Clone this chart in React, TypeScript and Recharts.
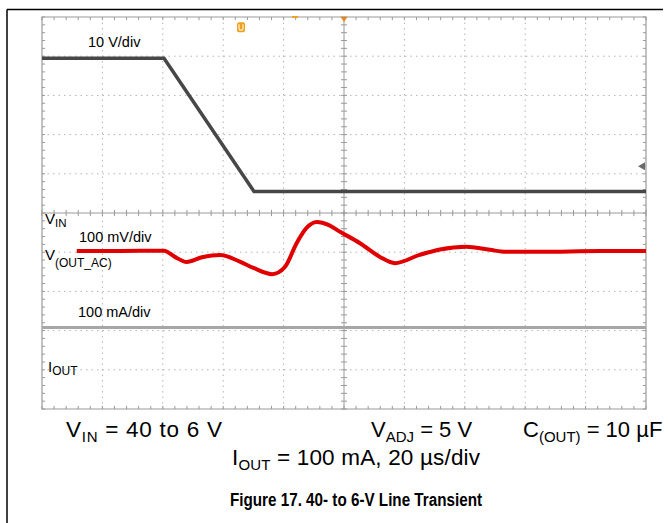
import { LineChart, Line, XAxis, YAxis, ReferenceLine, ReferenceArea, ReferenceDot } from "recharts";

// time base: 20 µs/div, 10 divisions
const timeTicks = [0, 20, 40, 60, 80, 100, 120, 140, 160, 180, 200];
const divTicks = [0, 1, 2, 3, 4, 5, 6, 7, 8, 9, 10];

// V_IN trace, volts (10 V/div)
const vinTime = [0, 40.4, 70.2, 200];
const vinVolts = [40, 40, 6, 6];

// V(OUT_AC) trace, mV (100 mV/div)
const voutTime = [11.5, 25, 40.4, 44, 47.9, 53, 59, 65.5, 70, 76.2, 80.5, 84.3, 87.6, 91, 95, 98.7, 105.3, 111.9, 116.9, 125, 131.8, 140.4, 148.3, 153.6, 164.9, 184.8, 200];
const voutMv = [0, 0, 1, -15, -28, -16, -10, -27, -43, -59, -40, 20, 59, 74, 66, 49, 20, -15, -31, -10, 4, 11, 3, -2, -2, 0, 0];

// I_OUT trace, mA (100 mA/div)
const ioutTime = [0, 200];
const ioutMa = [100, 100];

// channel ground markers, in divisions from the bottom
const VIN_ZERO = 4.95;
const VOUT_ZERO = 4.03;
const IOUT_ZERO = 1.08;

const vinData = vinTime.map((t, i) => ({ t, v: VIN_ZERO + vinVolts[i] / 10 }));
const voutData = voutTime.map((t, i) => ({ t, v: VOUT_ZERO + voutMv[i] / 100 }));
const ioutData = ioutTime.map((t, i) => ({ t, v: IOUT_ZERO + ioutMa[i] / 100 }));

const minorT = Array.from({ length: 51 }, (_, i) => i * 4);
const minorD = Array.from({ length: 51 }, (_, i) => i * 0.2);

const GRID = "#b4b4b4";
const AXIS = "#9a9a9a";

export default function App() {
  const tx = 0.08; // tick length in divisions (vertical)
  const tt = 1; // tick length in µs (horizontal)
  return (
    <div style={{ position: "absolute", left: 0, top: 0, width: 668, height: 523, background: "#fff" }}>
      <LineChart width={668} height={523} margin={{ top: 17, right: 22, bottom: 114, left: 42 }}>
        <XAxis type="number" dataKey="t" domain={[0, 200]} ticks={timeTicks} hide allowDataOverflow />
        <YAxis type="number" dataKey="v" domain={[0, 10]} ticks={divTicks} hide allowDataOverflow />
        {timeTicks.slice(1, -1).filter((t) => t !== 100).map((t) => (
          <ReferenceLine key={`gx${t}`} x={t} stroke={GRID} strokeDasharray="1.5 4" />
        ))}
        {divTicks.slice(1, -1).filter((d) => d !== 5).map((d) => (
          <ReferenceLine key={`gy${d}`} y={d} stroke={GRID} strokeDasharray="1.5 4" />
        ))}
        <ReferenceLine x={100} stroke={AXIS} />
        <ReferenceLine y={5} stroke={AXIS} />
        {minorT.map((t) => (
          <ReferenceLine key={`ct${t}`} segment={[{ x: t, y: 5 - tx }, { x: t, y: 5 + tx }]} stroke={AXIS} />
        ))}
        {minorT.map((t) => (
          <ReferenceLine key={`tt${t}`} segment={[{ x: t, y: 10 }, { x: t, y: 10 - tx }]} stroke={AXIS} />
        ))}
        {minorT.map((t) => (
          <ReferenceLine key={`bt${t}`} segment={[{ x: t, y: 0 }, { x: t, y: tx }]} stroke={AXIS} />
        ))}
        {minorD.map((d) => (
          <ReferenceLine key={`cd${d}`} segment={[{ x: 100 - tt, y: d }, { x: 100 + tt, y: d }]} stroke={AXIS} />
        ))}
        {minorD.map((d) => (
          <ReferenceLine key={`ld${d}`} segment={[{ x: 0, y: d }, { x: tt, y: d }]} stroke={AXIS} />
        ))}
        {minorD.map((d) => (
          <ReferenceLine key={`rd${d}`} segment={[{ x: 200 - tt, y: d }, { x: 200, y: d }]} stroke={AXIS} />
        ))}
        <ReferenceArea x1={0} x2={200} y1={0} y2={10} fill="none" stroke={AXIS} strokeWidth={1.2} />
        <Line data={ioutData} dataKey="v" type="linear" stroke="#a6a6a6" strokeWidth={3} dot={false} activeDot={false} isAnimationActive={false} />
        <Line data={vinData} dataKey="v" type="linear" stroke="#474747" strokeWidth={3.5} dot={false} activeDot={false} isAnimationActive={false} />
        <Line data={voutData} dataKey="v" type="monotone" stroke="#e00000" strokeWidth={4} dot={false} activeDot={false} isAnimationActive={false} />
        <ReferenceDot
          x={65.9}
          y={9.74}
          r={4}
          shape={(p: any) => (
            <g>
              <rect x={p.cx - 4} y={p.cy - 5} width={8} height={10} rx={2} fill="#f0a020" />
              <path d={`M${p.cx - 2},${p.cy - 3} v4 a2,2 0 0 0 4,0 v-4`} stroke="#fde7b0" strokeWidth={1.4} fill="none" />
            </g>
          )}
        />
        <ReferenceDot
          x={100}
          y={10}
          r={3}
          shape={(p: any) => <path d={`M${p.cx - 3.5},${p.cy} h7 l-3.5,5 z`} fill="#f08a10" />}
        />
        <ReferenceDot
          x={83.8}
          y={10}
          r={2}
          shape={(p: any) => <rect x={p.cx - 3} y={p.cy - 1} width={6} height={2} fill="#f0a020" />}
        />
        <ReferenceDot
          x={200}
          y={6.19}
          r={3}
          shape={(p: any) => <path d={`M${p.cx - 8},${p.cy} l7,-4 v8 z`} fill="#6a6a6a" />}
        />
      </LineChart>
      <svg
        width={668}
        height={523}
        style={{ position: "absolute", left: 0, top: 0, pointerEvents: "none" }}
        fontFamily="'Liberation Sans', Arial, sans-serif"
      >
        <line x1={7} y1={9.5} x2={663} y2={9.5} stroke="#000" strokeWidth={1.5} />
        <line x1={7} y1={9.5} x2={7} y2={523} stroke="#000" strokeWidth={1.5} />
        <text x={88} y={47} fontSize={14.5}>10 V/div</text>
        <text x={45} y={224} fontSize={15}>
          V<tspan fontSize={11.5} dy={3}>IN</tspan>
        </text>
        <text x={79} y={241.5} fontSize={14.5}>100 mV/div</text>
        <text x={45} y={260} fontSize={15}>
          V<tspan fontSize={12} dy={6.5}>(OUT_AC)</tspan>
        </text>
        <text x={78} y={316.5} fontSize={14.5}>100 mA/div</text>
        <text x={48} y={372} fontSize={15}>
          I<tspan fontSize={12} dy={3}>OUT</tspan>
        </text>
        <text x={66} y={437} fontSize={22.5} textLength={156} lengthAdjust="spacing">
          V<tspan fontSize={15} dy={5}>IN</tspan>
          <tspan dy={-5}> = 40 to 6 V</tspan>
        </text>
        <text x={371} y={437} fontSize={22}>
          V<tspan fontSize={15} dy={5}>ADJ</tspan>
          <tspan dy={-5}> = 5 V</tspan>
        </text>
        <text x={523} y={437} fontSize={22}>
          C<tspan fontSize={15} dy={5}>(OUT)</tspan>
          <tspan dy={-5}> = 10 µF</tspan>
        </text>
        <text x={232} y={465} fontSize={22.5} textLength={248} lengthAdjust="spacing">
          I<tspan fontSize={15} dy={5}>OUT</tspan>
          <tspan dy={-5}> = 100 mA, 20 µs/div</tspan>
        </text>
        <text x={230} y={506} fontSize={17.5} fontWeight="bold" textLength={252} lengthAdjust="spacingAndGlyphs">
          Figure 17. 40- to 6-V Line Transient
        </text>
      </svg>
    </div>
  );
}
